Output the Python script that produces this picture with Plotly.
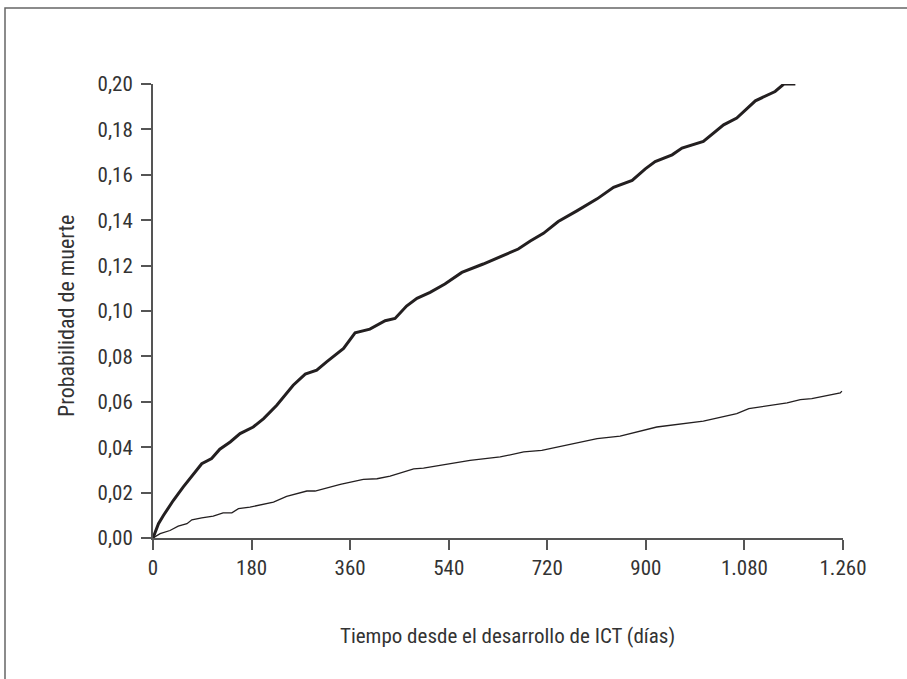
import plotly.graph_objects as go

# Thick curve (upper)
x_thick = [0, 10, 19, 37, 55, 74, 89, 107, 122, 141, 159, 183, 202, 226, 256, 278, 299, 317,
           348, 369, 396, 424, 442, 463, 482, 506, 533, 564, 603, 667, 689, 713, 740, 774,
           811, 841, 850, 875, 899, 917, 948, 966, 1005, 1042, 1066, 1100, 1136, 1152, 1173]
y_thick = [0.0, 0.0063, 0.0099, 0.0165, 0.0224, 0.0283, 0.0327, 0.0350, 0.0391, 0.0423, 0.0460,
           0.0489, 0.0526, 0.0585, 0.0673, 0.0722, 0.0739, 0.0776, 0.0835, 0.0904, 0.0920, 0.0957,
           0.0967, 0.1022, 0.1056, 0.1082, 0.1119, 0.1170, 0.1207, 0.1273, 0.1308, 0.1342, 0.1394,
           0.1441, 0.1494, 0.1545, 0.1553, 0.1575, 0.1626, 0.1658, 0.1688, 0.1718, 0.1747, 0.1820,
           0.1850, 0.1926, 0.1967, 0.2000, 0.2000]

# Thin curve (lower)
x_thin = [0, 13, 31, 46, 62, 71, 89, 110, 128, 144, 156, 177, 220, 244, 281, 296, 342, 384, 409,
          433, 476, 494, 524, 579, 634, 677, 710, 762, 811, 853, 920, 1005, 1066, 1088, 1158, 1182,
          1203, 1255, 1258]
y_thin = [0.0, 0.0019, 0.0033, 0.0052, 0.0063, 0.0080, 0.0089, 0.0096, 0.0111, 0.0111, 0.0129,
          0.0136, 0.0158, 0.0183, 0.0207, 0.0207, 0.0236, 0.0258, 0.0261, 0.0273, 0.0305, 0.0308,
          0.0320, 0.0342, 0.0357, 0.0379, 0.0386, 0.0413, 0.0438, 0.0449, 0.0489, 0.0515, 0.0548,
          0.0570, 0.0595, 0.0610, 0.0614, 0.0639, 0.0647]

x_tickvals = [0, 180, 360, 540, 720, 900, 1080, 1260]
x_ticktext = ["0", "180", "360", "540", "720", "900", "1.080", "1.260"]
y_tickvals = [0.00, 0.02, 0.04, 0.06, 0.08, 0.10, 0.12, 0.14, 0.16, 0.18, 0.20]
y_ticktext = ["0,00", "0,02", "0,04", "0,06", "0,08", "0,10", "0,12", "0,14", "0,16", "0,18", "0,20"]

x_title = "Tiempo desde el desarrollo de ICT (días)"
y_title = "Probabilidad de muerte"

FONT = "Liberation Sans Narrow, Roboto Condensed, Arial Narrow, Liberation Sans, sans-serif"
LINE = "#231f20"
AXIS = "#555555"
TXT = "#333333"
FS = 21

fig = go.Figure()
fig.add_trace(go.Scatter(x=x_thin, y=y_thin, mode="lines",
                         line=dict(color=LINE, width=1.3), showlegend=False, hoverinfo="skip"))
fig.add_trace(go.Scatter(x=x_thick, y=y_thick, mode="lines",
                         line=dict(color=LINE, width=3), showlegend=False, hoverinfo="skip"))

W, H = 907, 679
L, R, T, B = 153, 64, 84, 141
pw, ph = W - L - R, H - T - B

def px(xp):
    return (xp - L) / pw

def py(yp):
    return (H - B - yp) / ph

fig.update_layout(
    width=W, height=H,
    margin=dict(l=L, r=R, t=T, b=B, pad=0),
    paper_bgcolor="white", plot_bgcolor="white",
    font=dict(family=FONT, size=FS, color=TXT),
    xaxis=dict(range=[0, 1260], tickvals=x_tickvals, ticktext=x_ticktext,
               showgrid=False, zeroline=False, showline=True, linecolor=AXIS, linewidth=2,
               ticks="outside", ticklen=10, tickwidth=1.5, tickcolor=AXIS,
               ticklabelstandoff=0,
               tickfont=dict(family=FONT, size=FS, color=TXT)),
    yaxis=dict(range=[0, 0.2], tickvals=y_tickvals, ticktext=y_ticktext,
               showgrid=False, zeroline=False, showline=True, linecolor=AXIS, linewidth=2,
               ticks="outside", ticklen=10, tickwidth=1.5, tickcolor=AXIS,
               ticklabelstandoff=4,
               tickfont=dict(family=FONT, size=FS, color=TXT)),
    shapes=[dict(type="rect", xref="paper", yref="paper",
                 x0=px(5), y0=py(720), x1=px(960), y1=py(8),
                 line=dict(color="#666666", width=1.5), fillcolor="rgba(0,0,0,0)", layer="below")],
    annotations=[
        dict(text=x_title, xref="paper", yref="paper", x=px(507.5), y=py(636),
             xanchor="center", yanchor="middle", showarrow=False,
             font=dict(family=FONT, size=FS, color=TXT)),
        dict(text=y_title, xref="paper", yref="paper", x=px(66), y=py(316),
             xanchor="center", yanchor="middle", showarrow=False, textangle=-90,
             font=dict(family=FONT, size=22, color=TXT)),
    ],
)

fig.write_html("out.html", config={"displayModeBar": False},
               post_script="document.body.style.margin='0px';document.body.style.overflow='hidden';")
